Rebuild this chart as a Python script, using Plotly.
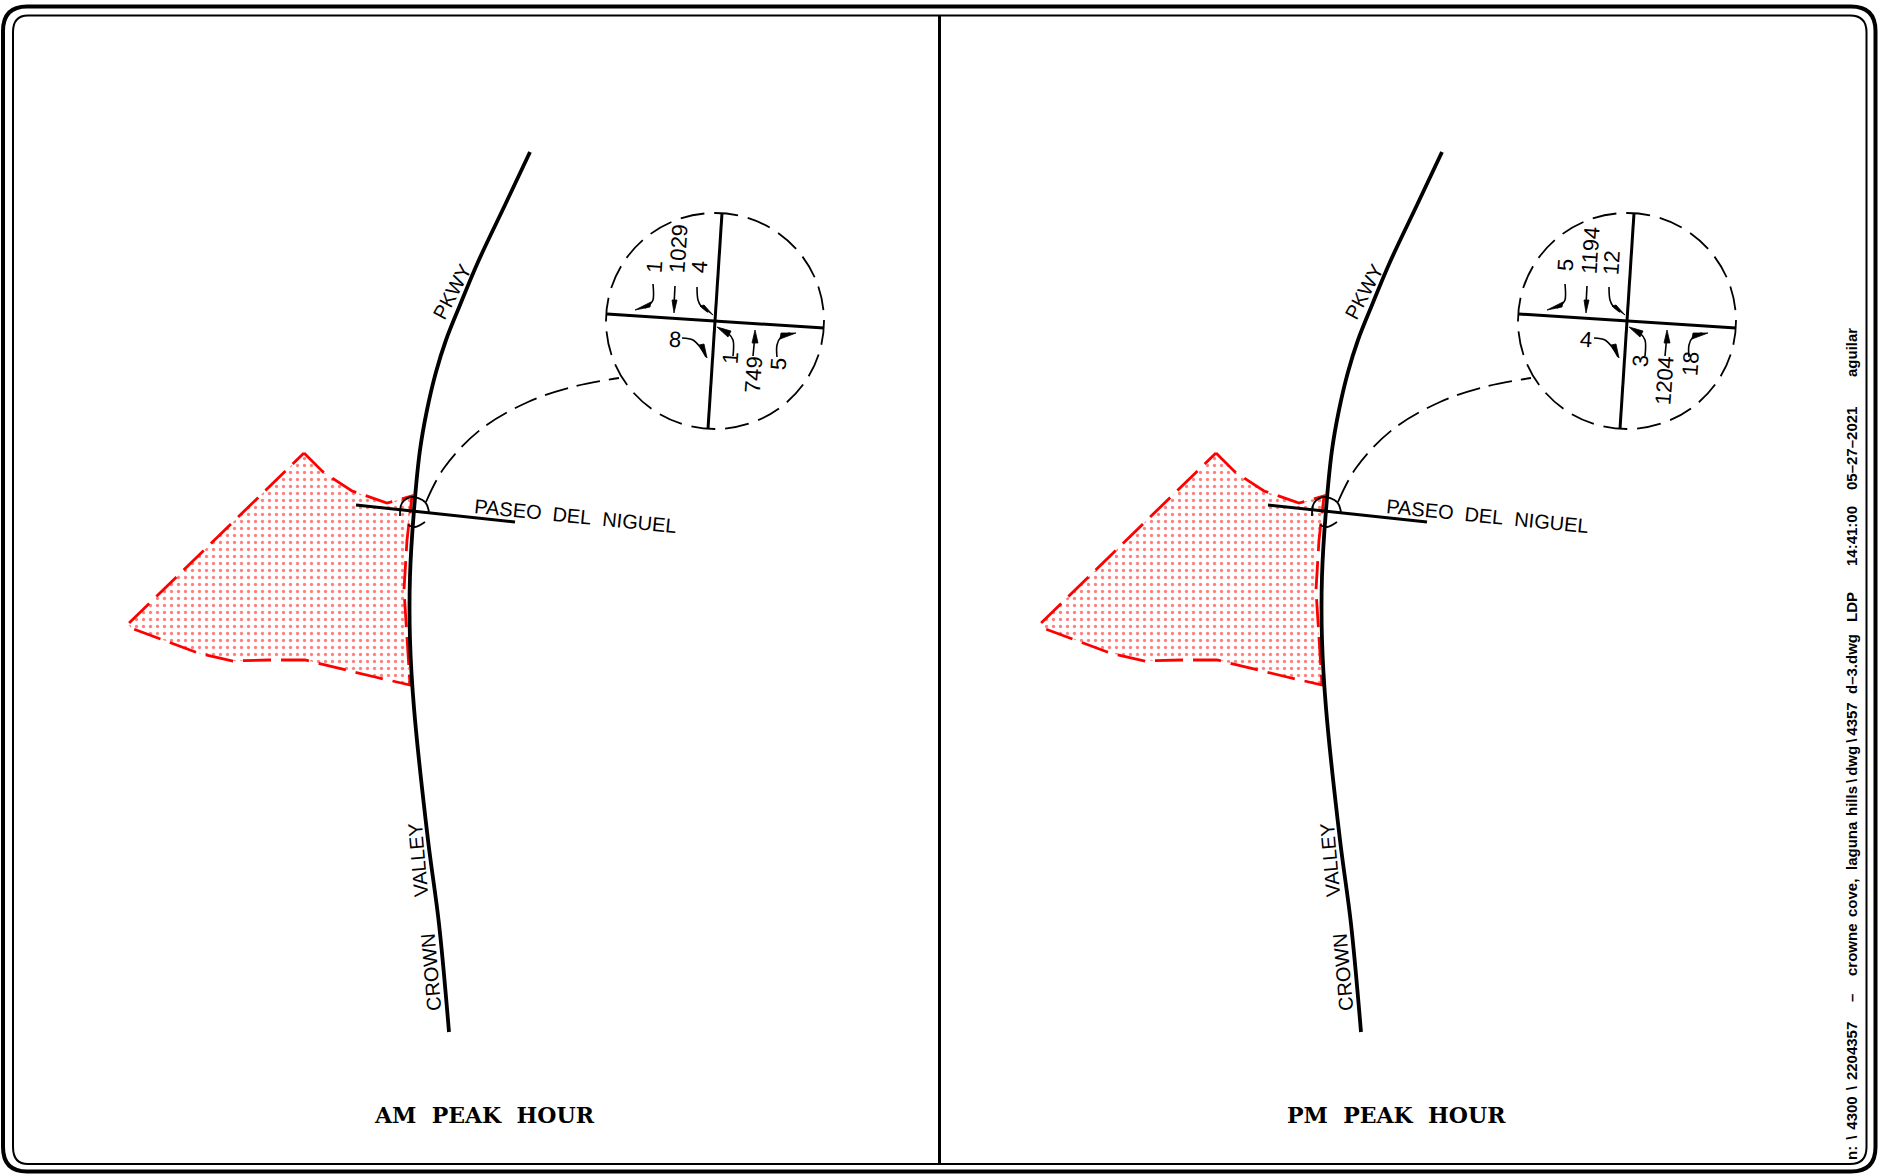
import plotly.graph_objects as go

W, H = 1881, 1176
PANEL_OFFSET = 912
BLACK = "#000000"
RED = "#ff0000"
SANS = "Liberation Sans, Arial, sans-serif"

road_x = [530, 505, 478, 460, 446, 436, 427, 420, 414, 410, 410, 414, 428, 439, 449]
road_y = [152, 205, 262, 305, 340, 372, 410, 450, 510, 576, 640, 708, 840, 924, 1032]
cross_x = [356, 515]
cross_y = [505, 522]

zone_x = [304, 323, 352, 387, 412, 407, 404, 407, 410, 375, 305, 269, 233, 198, 165, 131, 128, 304]
zone_y = [453, 472, 491, 503, 496, 540, 590, 643, 685, 677, 660, 660, 661, 653, 641, 628, 624, 453]

leader_x = [426, 444, 480, 528, 576, 619]
leader_y = [502, 468, 430, 402, 386, 378]
arc_top_x = [400, 402, 412, 425, 429]
arc_top_y = [516, 503, 497, 502, 512]
arc_bot_x = [408, 415, 425]
arc_bot_y = [525, 527, 522]

big_circle = (606, 213, 824, 429)
inset_ns_x = [722, 708]
inset_ns_y = [213, 429]
inset_ew_x = [607, 824]
inset_ew_y = [314, 328]

turn_lines = [
    ([653, 653, 650, 645], [284, 300, 304, 308]),
    ([675, 674], [286, 305]),
    ([697, 698, 701, 708], [287, 300, 306, 312]),
    ([682, 693, 700, 706], [338, 340, 347, 357]),
    ([733, 733, 728, 722], [356, 340, 333, 329]),
    ([753, 755], [356, 335]),
    ([777, 777, 781, 790], [357, 345, 337, 333]),
]
turn_heads = [
    ([635, 651, 650], [310, 302, 307]),
    ([672, 677, 674], [300, 300, 313]),
    ([700, 704, 713], [306, 305, 315]),
    ([699, 704, 707], [345, 344, 358]),
    ([717, 731, 728], [327, 331, 337]),
    ([752, 758, 755], [343, 343, 330]),
    ([796, 781, 780], [333, 333, 339]),
]

am_labels = ["1", "1029", "4", "8", "1", "749", "5"]
am_label_x = [654, 678, 699, 675, 730, 753, 778]
am_label_y = [267, 249, 267, 339, 358, 375, 364]
pm_labels = ["5", "1194", "12", "4", "3", "1204", "18"]
pm_label_x = [1565, 1590, 1611, 1586, 1640, 1664, 1690]
pm_label_y = [265, 251, 263, 339, 361, 381, 364]
label_angles = [-86, -86, -86, 4, -86, -86, -86]

road_names = ["PKWY", "VALLEY", "CROWN", "PASEO\u00a0 DEL\u00a0 NIGUEL"]
road_name_x = [452, 418, 431, 575]
road_name_y = [292, 860, 972, 516]
road_name_angle = [-62, -95, -95, 5.7]

titles = ["AM\u00a0 PEAK\u00a0 HOUR", "PM\u00a0 PEAK\u00a0 HOUR"]
title_x = [484, 1396]
title_y = 1115

BS_WIDE = "\u2009\u2009\\\u2009\u2009"
BS = "\u2009\\\u2009"
stamp_text = ["n:" + BS_WIDE + "4300" + BS_WIDE + "2204357", "\u2013", "crowne", "cove,", "laguna",
              "hills" + BS + "dwg" + BS + "4357", "d\u20133.dwg",
              "LDP", "14:41:00", "05\u201327\u20132021", "aguilar"]
stamp_y = [1091, 998, 950, 898, 846, 759, 664, 607, 536, 449, 353]

fig = go.Figure()


def line(x, y, color=BLACK, width=3, dash="solid", shape="linear", fill=None):
    fig.add_trace(go.Scatter(x=x, y=y, mode="lines", hoverinfo="skip", showlegend=False,
                             line=dict(color=color, width=width, dash=dash, shape=shape), fill=fill,
                             fillcolor=color if fill else None))


def shift(xs, d):
    return [v + d for v in xs]


for d in (0, PANEL_OFFSET):
    fig.add_trace(go.Scatter(x=shift(zone_x, d), y=zone_y, mode="lines", hoverinfo="skip", showlegend=False,
                             line=dict(color=RED, width=2.8, dash="28px,10px"), fill="toself",
                             fillcolor="rgba(0,0,0,0)",
                             fillpattern=dict(shape=".", size=7, solidity=0.17, fgcolor=RED, bgcolor="white")))
    line(shift(road_x, d), road_y, shape="spline", width=3.8)
    line(shift(cross_x, d), cross_y, width=3)
    line(shift(leader_x, d), leader_y, width=1.8, dash="24px,9px", shape="spline")
    line(shift(arc_top_x, d), arc_top_y, width=1.8, shape="spline")
    line(shift(arc_bot_x, d), arc_bot_y, width=1.8, shape="spline")
    line(shift(inset_ns_x, d), inset_ns_y, width=3)
    line(shift(inset_ew_x, d), inset_ew_y, width=3)
    for xs, ys in turn_lines:
        line(shift(xs, d), ys, width=1.6, shape="spline")
    for xs, ys in turn_heads:
        line(shift(xs, d) + [shift(xs, d)[0]], ys + [ys[0]], width=0.8, fill="toself")
    fig.add_shape(type="circle", x0=big_circle[0] + d, y0=big_circle[1], x1=big_circle[2] + d, y1=big_circle[3],
                  line=dict(color=BLACK, width=1.8, dash="24px,10px"))

fig.add_shape(type="path", path="M 27 6.5 L 1851 6.5 Q 1875.5 6.5 1875.5 31 L 1875.5 1147 Q 1875.5 1171.5 1851 1171.5 L 27 1171.5 Q 3 1171.5 3 1147 L 3 31 Q 3 6.5 27 6.5 Z",
              line=dict(color=BLACK, width=4))
fig.add_shape(type="path", path="M 28 15.5 L 1850 15.5 Q 1866.5 15.5 1866.5 32 L 1866.5 1147 Q 1866.5 1164 1850 1164 L 28 1164 Q 13 1164 13 1147 L 13 32 Q 13 15.5 28 15.5 Z",
              line=dict(color=BLACK, width=2))
fig.add_shape(type="line", x0=939.5, x1=939.5, y0=15, y1=1164, line=dict(color=BLACK, width=3))

annotations = []


def text(t, x, y, angle=0, size=20, family=SANS, color=BLACK):
    annotations.append(dict(text=t, x=x, y=y, xref="x", yref="y", textangle=angle, showarrow=False,
                            font=dict(family=family, size=size, color=color), xanchor="center", yanchor="middle"))


for lab, x, y, a in zip(am_labels, am_label_x, am_label_y, label_angles):
    text(lab, x, y, a, 22)
for lab, x, y, a in zip(pm_labels, pm_label_x, pm_label_y, label_angles):
    text(lab, x, y, a, 22)
for d in (0, PANEL_OFFSET):
    for t, x, y, a in zip(road_names, road_name_x, road_name_y, road_name_angle):
        text(t, x + d, y, a)
for t, x in zip(titles, title_x):
    text("<b>" + t + "</b>", x, title_y, 0, 22, "DejaVu Serif, serif")
for t, y in zip(stamp_text, stamp_y):
    text("<b>" + t + "</b>", 1851, y, -90, 15, SANS)

fig.update_layout(
    width=W, height=H, margin=dict(l=0, r=0, t=0, b=0, pad=0), autosize=False,
    paper_bgcolor="white", plot_bgcolor="white", showlegend=False, annotations=annotations,
    xaxis=dict(range=[0, W], visible=False, fixedrange=True),
    yaxis=dict(range=[H, 0], visible=False, fixedrange=True),
)
fig.write_html("out.html", config={"displayModeBar": False},
               post_script="document.body.style.margin='0';document.body.style.overflow='hidden';")
